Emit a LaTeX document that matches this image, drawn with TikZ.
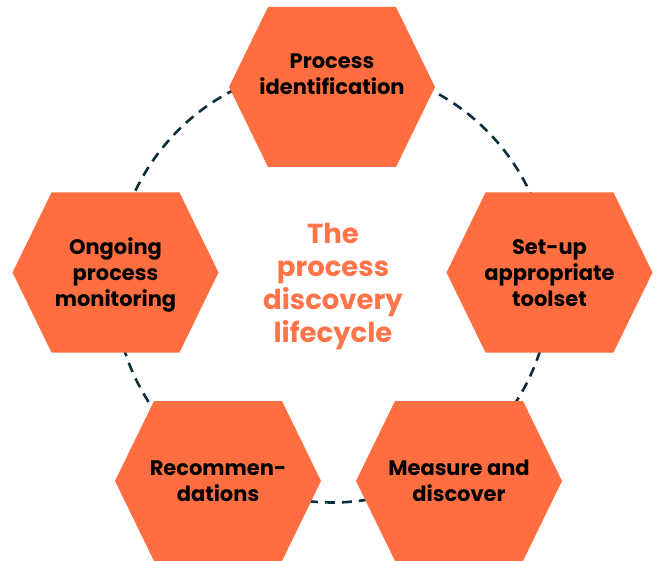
\documentclass[tikz,border=0pt]{standalone}
\usepackage{fontspec}
\setmainfont{Poppins}
\definecolor{hexorange}{HTML}{FF6E40}
\definecolor{titleorange}{HTML}{FF7448}
\definecolor{ringdark}{HTML}{0B2E3B}
\begin{document}
\begin{tikzpicture}[x=1pt,y=-1pt,
  hexfill/.style={fill=hexorange},
  hexa/.pic={\fill[hexfill] (103,0)--(64,80)--(-64,80)--(-103,0)--(-64,-80)--(64,-80)--cycle;},
  ring/.style={draw=ringdark,line width=2.6pt,dash pattern=on 10pt off 7pt},
  steptext/.style={align=center,inner sep=0pt,anchor=base,font=\fontsize{21}{26}\selectfont\bfseries,text=black},
  titletext/.style={align=center,inner sep=0pt,anchor=base,font=\fontsize{27.5}{33}\selectfont\bfseries,text=titleorange}]
\useasboundingbox (0,0) rectangle (656,561);
\draw[ring] (332.3,284.5) circle[radius=218pt];
\pic at (332,87) {hexa};
\pic at (115.5,272.5) {hexa};
\pic at (549.5,272.5) {hexa};
\pic at (218,481) {hexa};
\pic at (459,481) {hexa};
\node[steptext] (ident) at (332,95) {Process\\identification};
\node[steptext] (monitor) at (115.5,307) {Ongoing\\process\\monitoring};
\node[steptext] (setup) at (549.5,307) {Set-up\\appropriate\\toolset};
\node[steptext] (recomm) at (218,501) {Recommen-\\dations};
\node[steptext] (measure) at (459,501) {Measure and\\discover};
\node[titletext] (title) at (333,342) {The\\process\\discovery\\lifecycle};
\end{tikzpicture}
\end{document}
